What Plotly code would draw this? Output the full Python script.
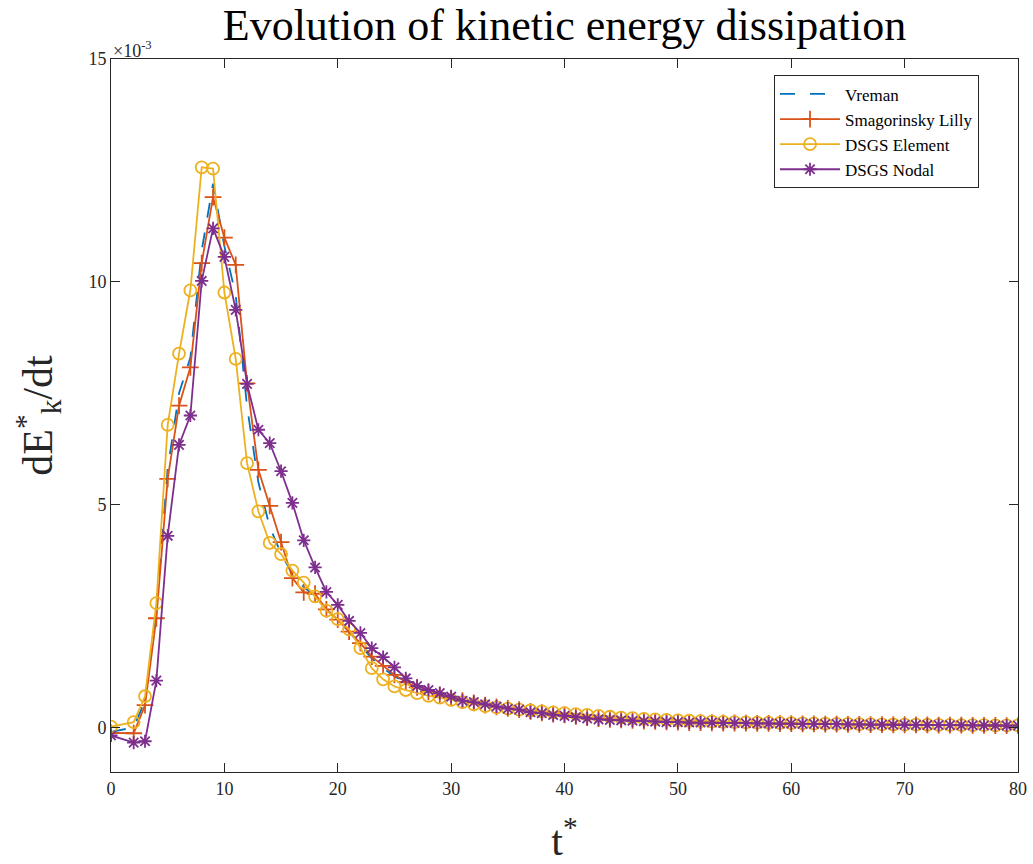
import plotly.graph_objects as go

t = [0] + list(range(2, 81))

vreman = [-0.10, 0.00, 0.60, 2.60, 5.80, 7.50, 8.30, 10.70, 12.20, 10.80,
          9.70, 7.20, 5.50, 4.50, 3.90, 3.45, 3.15, 2.95, 2.65, 2.40,
          2.15, 1.85, 1.55, 1.33, 1.15, 1.00, 0.89, 0.80, 0.72, 0.66,
          0.60, 0.55, 0.50, 0.46, 0.43, 0.40, 0.36, 0.33, 0.30, 0.28,
          0.25, 0.22, 0.20, 0.18, 0.17, 0.16, 0.145, 0.135, 0.125, 0.12,
          0.11, 0.11, 0.105, 0.10, 0.10, 0.095, 0.09, 0.09, 0.085, 0.085,
          0.08, 0.08, 0.075, 0.075, 0.07, 0.07, 0.065, 0.065, 0.06, 0.06,
          0.058, 0.056, 0.054, 0.052, 0.05, 0.048, 0.046, 0.044, 0.042, 0.04]

smag = [-0.12, -0.13, 0.50, 2.45, 5.58, 7.22, 8.08, 10.42, 11.90, 10.99,
        10.38, 7.72, 5.78, 4.97, 4.16, 3.35, 3.03, 3.00, 2.65, 2.42,
        2.15, 1.89, 1.59, 1.38, 1.18, 1.02, 0.90, 0.80, 0.72, 0.66,
        0.60, 0.55, 0.50, 0.46, 0.43, 0.40, 0.36, 0.33, 0.30, 0.28,
        0.25, 0.22, 0.20, 0.18, 0.17, 0.16, 0.145, 0.135, 0.125, 0.12,
        0.11, 0.11, 0.105, 0.10, 0.10, 0.095, 0.09, 0.09, 0.085, 0.085,
        0.08, 0.08, 0.075, 0.075, 0.07, 0.07, 0.065, 0.065, 0.06, 0.06,
        0.058, 0.056, 0.054, 0.052, 0.05, 0.048, 0.046, 0.044, 0.042, 0.04]

dsgs_elem = [0.02, 0.12, 0.70, 2.79, 6.79, 8.39, 9.81, 12.57, 12.54, 9.76,
             8.27, 5.93, 4.85, 4.14, 3.89, 3.52, 3.25, 2.94, 2.62, 2.43,
             2.20, 1.78, 1.33, 1.08, 0.92, 0.84, 0.77, 0.71, 0.67, 0.62,
             0.57, 0.52, 0.48, 0.45, 0.42, 0.40, 0.38, 0.36, 0.34, 0.32,
             0.30, 0.28, 0.26, 0.24, 0.22, 0.21, 0.19, 0.18, 0.17, 0.16,
             0.15, 0.14, 0.13, 0.125, 0.12, 0.115, 0.11, 0.105, 0.10, 0.095,
             0.09, 0.088, 0.085, 0.08, 0.078, 0.075, 0.072, 0.07, 0.066, 0.064,
             0.062, 0.06, 0.058, 0.056, 0.054, 0.052, 0.05, 0.048, 0.046, 0.045]

dsgs_nodal = [-0.18, -0.34, -0.31, 1.05, 4.30, 6.34, 7.00, 10.02, 11.20, 10.56,
              9.37, 7.71, 6.68, 6.38, 5.75, 5.04, 4.20, 3.59, 3.04, 2.75,
              2.39, 2.12, 1.78, 1.58, 1.35, 1.10, 0.93, 0.84, 0.77, 0.69,
              0.60, 0.57, 0.52, 0.47, 0.42, 0.40, 0.34, 0.32, 0.28, 0.26,
              0.23, 0.20, 0.18, 0.17, 0.16, 0.15, 0.14, 0.13, 0.12, 0.12,
              0.11, 0.11, 0.11, 0.10, 0.10, 0.095, 0.09, 0.09, 0.085, 0.085,
              0.08, 0.08, 0.075, 0.075, 0.07, 0.07, 0.065, 0.065, 0.06, 0.06,
              0.058, 0.056, 0.054, 0.052, 0.05, 0.048, 0.046, 0.044, 0.042, 0.04]

x_ticks = [0, 10, 20, 30, 40, 50, 60, 70, 80]
y_ticks = [0, 5, 10, 15]

FONT = "Liberation Serif, Times New Roman, serif"
AX = "#262626"

fig = go.Figure()
fig.add_trace(go.Scatter(x=t, y=vreman, name="Vreman", mode="lines",
                         line=dict(color="#0072BD", width=1.8, dash="longdash")))
fig.add_trace(go.Scatter(x=t, y=smag, name="Smagorinsky Lilly", mode="lines+markers",
                         line=dict(color="#D95319", width=1.8),
                         marker=dict(symbol="cross-thin-open", size=12,
                                     line=dict(color="#D95319", width=1.8))))
fig.add_trace(go.Scatter(x=t, y=dsgs_elem, name="DSGS Element", mode="lines+markers",
                         line=dict(color="#EDB120", width=1.8),
                         marker=dict(symbol="circle-open", size=12, color="#EDB120",
                                     line=dict(color="#EDB120", width=1.8))))
fig.add_trace(go.Scatter(x=t, y=dsgs_nodal, name="DSGS Nodal", mode="lines+markers",
                         line=dict(color="#7E2F8E", width=1.8),
                         marker=dict(symbol="asterisk-open", size=11,
                                     line=dict(color="#7E2F8E", width=1.8))))

axis_common = dict(showgrid=False, zeroline=False, showline=True, linecolor=AX,
                   linewidth=1, mirror="allticks", ticks="inside", ticklen=9,
                   tickcolor=AX, tickwidth=1, automargin=False,
                   tickfont=dict(family=FONT, size=18, color=AX))

fig.update_layout(
    width=1033, height=864,
    margin=dict(l=111, r=15, t=59, b=92),
    paper_bgcolor="white", plot_bgcolor="white",
    title=dict(text="Evolution of kinetic energy dissipation",
               font=dict(family=FONT, size=44, color="black"),
               x=0.5465, xanchor="center", y=0.972, yanchor="middle"),
    xaxis=dict(range=[0, 80], tickvals=x_ticks, ticktext=[str(v) for v in x_ticks],
               title=dict(text="t<sup>*</sup>", font=dict(family=FONT, size=42, color=AX),
                          standoff=30),
               **axis_common),
    yaxis=dict(range=[-1, 15], tickvals=y_ticks, ticktext=[str(v) for v in y_ticks],
               title=dict(text="dE<sup>*</sup><sub>k</sub>/dt",
                          font=dict(family=FONT, size=42, color=AX), standoff=22),
               **axis_common),
    legend=dict(x=0.731, y=0.977, xanchor="left", yanchor="top",
                bgcolor="white", bordercolor=AX, borderwidth=1,
                font=dict(family=FONT, size=17, color="black"),
                itemwidth=60, tracegroupgap=0),
    showlegend=True,
)

fig.add_annotation(text="×10<sup>-3</sup>", xref="paper", yref="paper",
                   x=0.0, y=1.0, xanchor="left", yanchor="bottom", showarrow=False,
                   font=dict(family=FONT, size=18, color=AX), yshift=-4)

fig.write_html("out.html")
